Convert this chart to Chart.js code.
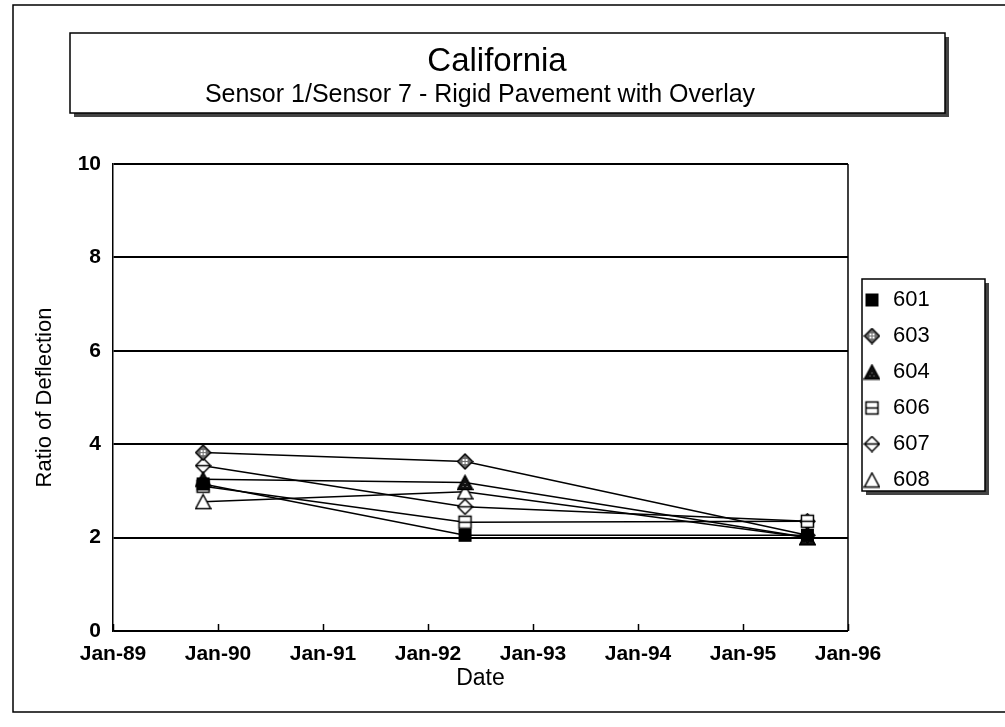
<!DOCTYPE html>
<html>
<head>
<meta charset="utf-8">
<script src="https://cdn.jsdelivr.net/npm/chart.js@4.4.0/dist/chart.umd.min.js"></script>
<style>
  html, body { margin: 0; padding: 0; background: #fff; }
  #wrap { width: 1005px; height: 727px; }
</style>
</head>
<body>
<div id="wrap"><canvas id="grafico"></canvas></div>
<script>
// datas das leituras (3 campanhas)
const datas = ['1989-11-10', '1992-05-08', '1995-08-12'];
const series = ['601', '603', '604', '606', '607', '608'];
const v601 = [3.15, 2.05, 2.05];
const v603 = [3.82, 3.63, 2.05];
const v604 = [3.25, 3.18, 2.0];
const v606 = [3.1, 2.33, 2.35];
const v607 = [3.54, 2.66, 2.35];
const v608 = [2.77, 2.98, 2.0];
const anosTicks = [1989, 1990, 1991, 1992, 1993, 1994, 1995, 1996];
const tickLabels = ['Jan-89', 'Jan-90', 'Jan-91', 'Jan-92', 'Jan-93', 'Jan-94', 'Jan-95', 'Jan-96'];
const yTicks = [0, 2, 4, 6, 8, 10];

const valores = [v601, v603, v604, v606, v607, v608];
const tipos = ['quadCheio', 'losango', 'triCheio', 'quadLinha', 'losLinha', 'triVazio'];

function anoDecimal(d) {
    const p = d.split('-');
    return +p[0] + (p[1] - 1) / 12 + (p[2] - 1) / 365;
}

function marcador(tipo) {
    const c = document.createElement('canvas');
    c.width = 17; c.height = 17;
    const g = c.getContext('2d');
    g.lineWidth = 1.5;
    g.strokeStyle = '#000';
    g.fillStyle = '#fff';
    if (tipo == 'quadCheio') {
        g.fillStyle = '#000';
        g.fillRect(2, 2, 13, 13);
    }
    if (tipo == 'quadLinha') {
        g.fillRect(2, 2, 13, 13);
        g.strokeRect(2.5, 2.5, 12, 12);
        g.beginPath(); g.moveTo(2.5, 8.5); g.lineTo(14.5, 8.5); g.stroke();
    }
    if (tipo == 'losango' || tipo == 'losLinha') {
        g.beginPath();
        g.moveTo(8.5, 1); g.lineTo(16, 8.5); g.lineTo(8.5, 16); g.lineTo(1, 8.5); g.closePath();
        g.fillStyle = tipo == 'losango' ? '#6e6e6e' : '#fff';
        g.fill(); g.stroke();
        if (tipo == 'losLinha') {
            g.beginPath(); g.moveTo(1.5, 8.5); g.lineTo(15.5, 8.5); g.stroke();
        } else {
            g.fillStyle = '#fff';
            g.fillRect(6, 6, 2, 2); g.fillRect(9, 9, 2, 2); g.fillRect(9, 6, 2, 2); g.fillRect(6, 9, 2, 2);
        }
    }
    if (tipo == 'triCheio' || tipo == 'triVazio') {
        g.beginPath();
        g.moveTo(8.5, 1.5); g.lineTo(16, 15.5); g.lineTo(1, 15.5); g.closePath();
        g.fillStyle = tipo == 'triCheio' ? '#111' : '#fff';
        g.fill(); g.stroke();
        if (tipo == 'triCheio') {
            g.fillStyle = '#999';
            g.fillRect(8, 9, 1, 1); g.fillRect(6, 12, 1, 1); g.fillRect(10, 12, 1, 1);
        }
    }
    return c;
}

function caixa(ctx, x, y, w, h) {
    ctx.fillStyle = '#444';
    ctx.fillRect(x + 4, y + 4, w, h);
    ctx.fillStyle = '#fff';
    ctx.fillRect(x, y, w, h);
    ctx.strokeStyle = '#000';
    ctx.lineWidth = 1.5;
    ctx.strokeRect(x, y, w, h);
}

const molduras = {
    id: 'molduras',
    beforeDraw(chart) {
        const ctx = chart.ctx;
        ctx.save();
        ctx.fillStyle = '#fff';
        ctx.fillRect(0, 0, chart.width, chart.height);
        ctx.strokeStyle = '#000';
        ctx.lineWidth = 1.5;
        ctx.beginPath();
        ctx.moveTo(1005, 5); ctx.lineTo(13, 5); ctx.lineTo(13, 712); ctx.lineTo(1005, 712);
        ctx.stroke();
        caixa(ctx, 70, 33, 875, 80);
        caixa(ctx, 862, 279, 123, 212);
        // titulo
        ctx.fillStyle = '#000';
        ctx.textAlign = 'center';
        ctx.textBaseline = 'middle';
        ctx.font = '33px Arial, "Liberation Sans"';
        ctx.fillText('California', 497, 62);
        ctx.font = '25px Arial, "Liberation Sans"';
        ctx.fillText('Sensor 1/Sensor 7 - Rigid Pavement with Overlay', 480, 95);
        ctx.restore();
    },
    beforeDatasetsDraw(chart) {
        const ctx = chart.ctx;
        const a = chart.chartArea;
        const sx = chart.scales.x;
        ctx.save();
        ctx.strokeStyle = '#000';
        ctx.lineWidth = 1.5;
        ctx.beginPath();
        ctx.moveTo(a.right, a.top); ctx.lineTo(a.right, a.bottom);
        anosTicks.forEach(v => {
            const px = Math.round(sx.getPixelForValue(v)) + 0.5;
            ctx.moveTo(px, a.bottom); ctx.lineTo(px, a.bottom - 7);
        });
        ctx.stroke();
        ctx.restore();
    }
};

const fonte = 'Arial, "Liberation Sans", sans-serif';

const datasets = series.map((nome, i) => ({
    label: nome,
    data: datas.map((d, j) => ({ x: anoDecimal(d), y: valores[i][j] })),
    borderColor: '#000',
    backgroundColor: '#fff',
    borderWidth: 1.5,
    pointStyle: marcador(tipos[i]),
    pointRadius: 8,
    fill: false,
    tension: 0
}));

new Chart(document.getElementById('grafico'), {
    type: 'line',
    data: { datasets: datasets },
    options: {
        responsive: true,
        maintainAspectRatio: false,
        animation: false,
        layout: { padding: { left: 14, right: 65.3, top: 164, bottom: 20 } },
        plugins: {
            tooltip: { enabled: false },
            legend: {
                position: 'right',
                align: 'start',
                title: { display: true, text: '', font: { size: 10, lineHeight: 1 }, padding: { top: 101, bottom: 0 } },
                labels: {
                    usePointStyle: true,
                    boxWidth: 20,
                    padding: 14,
                    color: '#000',
                    font: { family: fonte, size: 22 }
                }
            }
        },
        scales: {
            x: {
                type: 'linear',
                min: anosTicks[0],
                max: anosTicks[anosTicks.length - 1],
                afterBuildTicks: s => { s.ticks = anosTicks.map(v => ({ value: v })); },
                ticks: {
                    autoSkip: false,
                    maxRotation: 0,
                    padding: 11,
                    color: '#000',
                    font: { family: fonte, size: 21, weight: 'bold' },
                    callback: v => tickLabels[anosTicks.indexOf(v)]
                },
                grid: { display: false, drawTicks: false },
                border: { color: '#000', width: 1.5 },
                title: { display: true, text: 'Date', color: '#000', font: { family: fonte, size: 23 }, padding: { top: 0, bottom: 15 } },
                afterFit: s => { s.height = 76; }
            },
            y: {
                min: 0,
                max: 10,
                afterBuildTicks: s => { s.ticks = yTicks.map(v => ({ value: v })); },
                ticks: {
                    padding: 12,
                    color: '#000',
                    font: { family: fonte, size: 21, weight: 'bold' }
                },
                grid: { color: '#000', lineWidth: 2, drawTicks: false },
                border: { color: '#000', width: 1.5 },
                title: { display: true, text: 'Ratio of Deflection', color: '#000', font: { family: fonte, size: 22 }, padding: { top: 18, bottom: 0 } },
                afterFit: s => { s.width = 99; }
            }
        }
    },
    plugins: [molduras]
});
</script>
</body>
</html>
